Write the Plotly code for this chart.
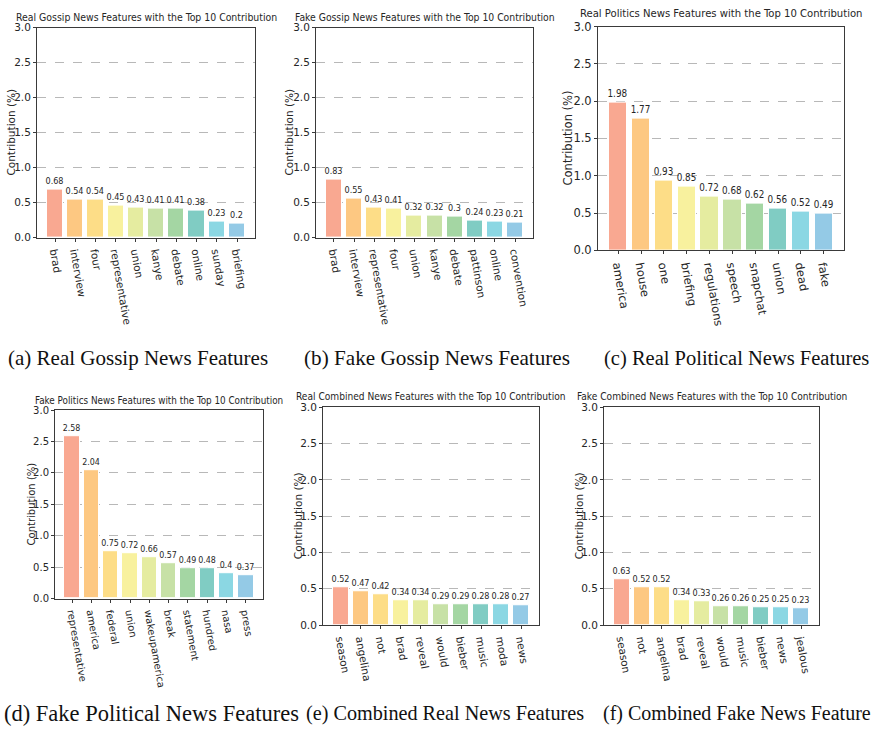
import plotly.graph_objects as go

# Top-10 feature contributions (%) for each news subset
real_gossip_words = ["brad", "interview", "four", "representative", "union",
                     "kanye", "debate", "online", "sunday", "briefing"]
real_gossip_vals = [0.68, 0.54, 0.54, 0.45, 0.43, 0.41, 0.41, 0.38, 0.23, 0.2]

fake_gossip_words = ["brad", "interview", "representative", "four", "union",
                     "kanye", "debate", "pattinson", "online", "convention"]
fake_gossip_vals = [0.83, 0.55, 0.43, 0.41, 0.32, 0.32, 0.3, 0.24, 0.23, 0.21]

real_politics_words = ["america", "house", "one", "briefing", "regulations",
                       "speech", "snapchat", "union", "dead", "fake"]
real_politics_vals = [1.98, 1.77, 0.93, 0.85, 0.72, 0.68, 0.62, 0.56, 0.52, 0.49]

fake_politics_words = ["representative", "america", "federal", "union", "wakeupamerica",
                       "break", "statement", "hundred", "nasa", "press"]
fake_politics_vals = [2.58, 2.04, 0.75, 0.72, 0.66, 0.57, 0.49, 0.48, 0.4, 0.37]

real_combined_words = ["season", "angelina", "not", "brad", "reveal",
                       "would", "bieber", "music", "moda", "news"]
real_combined_vals = [0.52, 0.47, 0.42, 0.34, 0.34, 0.29, 0.29, 0.28, 0.28, 0.27]

fake_combined_words = ["season", "not", "angelina", "brad", "reveal",
                       "would", "music", "bieber", "news", "jealous"]
fake_combined_vals = [0.63, 0.52, 0.52, 0.34, 0.33, 0.26, 0.26, 0.25, 0.25, 0.23]

titles = [
    "Real Gossip News Features with the Top 10 Contribution",
    "Fake Gossip News Features with the Top 10 Contribution",
    "Real Politics News Features with the Top 10 Contribution",
    "Fake Politics News Features with the Top 10 Contribution",
    "Real Combined News Features with the Top 10 Contribution",
    "Fake Combined News Features with the Top 10 Contribution",
]
captions = [
    "(a) Real Gossip News Features",
    "(b) Fake Gossip News Features",
    "(c) Real Political News Features",
    "(d) Fake Political News Features",
    "(e) Combined Real News Features",
    "(f) Combined Fake News Feature",
]
y_label = "Contribution (%)"

panels = [
    (real_gossip_words, real_gossip_vals),
    (fake_gossip_words, fake_gossip_vals),
    (real_politics_words, real_politics_vals),
    (fake_politics_words, fake_politics_vals),
    (real_combined_words, real_combined_vals),
    (fake_combined_words, fake_combined_vals),
]

# pastel spectral palette, one colour per rank
COLORS = ["#F9A891", "#FDC882", "#FDDD87", "#F8F19E", "#E5ECA0",
          "#C7E1A6", "#A4D6A3", "#80CCC3", "#8BD7E3", "#94CAE6"]

W, H = 872, 738
# plot-area boxes in pixels: left, right, top, bottom
boxes = [(37, 255, 21, 235), (316, 533, 21, 235), (598, 844, 20, 248),
         (55, 263, 411, 603), (323, 539, 408, 630), (604, 819, 408, 630)]
tick_px = [10.5, 10.5, 11.5, 10, 10.5, 10.5]
title_px = [10.4, 10.3, 11.2, 9.8, 10.1, 10.1]
label_px = [9, 9, 9.8, 8.8, 9, 9]
ylab_x = [11, 289, 568, 31, 298, 579]
title_y = [10, 10, 7, 401, 397, 397]
caption_pos = [(7, 358), (303, 358), (603, 358), (3, 720), (305, 720), (602, 720)]
caption_px = [21, 21.2, 20.5, 22.5, 20.2, 20]

SANS = "DejaVu Sans"
NARROW = "DejaVu Sans Condensed, Liberation Sans Narrow, Liberation Sans, DejaVu Sans"
INK = "#262626"

fig = go.Figure()
annotations = []
layout = {}

for i, ((words, vals), (l, r, t, b)) in enumerate(zip(panels, boxes)):
    k = "" if i == 0 else str(i + 1)
    idx = list(range(len(words)))
    fs = tick_px[i]
    fig.add_trace(go.Bar(
        x=idx, y=vals, width=0.8,
        marker=dict(color=COLORS, line=dict(color="white", width=1)),
        text=[str(v) for v in vals], textposition="outside",
        textfont=dict(family=NARROW, size=label_px[i], color=INK),
        constraintext="none", cliponaxis=False,
        xaxis="x" + k, yaxis="y" + k, showlegend=False,
        hoverinfo="x+y",
    ))
    layout["xaxis" + k] = dict(
        domain=[l / W, r / W], anchor="y" + k,
        range=[-0.89, len(words) - 0.11],
        tickmode="array", tickvals=idx, ticktext=words, tickangle=80,
        tickfont=dict(family=SANS, size=fs, color=INK),
        ticks="outside", ticklen=3, tickcolor="#3a3a3a",
        showline=True, mirror=True, linecolor="#3a3a3a", linewidth=1,
        showgrid=False, zeroline=False,
    )
    layout["yaxis" + k] = dict(
        domain=[1 - b / H, 1 - t / H], anchor="x" + k,
        range=[0, 3], tickmode="linear", tick0=0, dtick=0.5, tickformat=".1f",
        tickfont=dict(family=SANS, size=fs, color=INK),
        ticks="outside", ticklen=3, tickcolor="#3a3a3a",
        showline=True, mirror=True, linecolor="#3a3a3a", linewidth=1,
        showgrid=True, gridcolor="#b8b8b8", griddash="dash", gridwidth=1.3,
        zeroline=False,
    )
    # panel title
    annotations.append(dict(
        text=titles[i], x=(l + r) / 2 / W, y=1 - title_y[i] / H,
        xref="paper", yref="paper", xanchor="center", yanchor="middle",
        showarrow=False, borderpad=0,
        font=dict(family=NARROW, size=title_px[i], color=INK),
    ))
    # y-axis label
    annotations.append(dict(
        text=y_label, x=ylab_x[i] / W, y=1 - (t + b) / 2 / H,
        xref="paper", yref="paper", xanchor="center", yanchor="middle",
        textangle=-90, showarrow=False,
        font=dict(family=SANS, size=fs, color=INK),
    ))
    # sub-figure caption
    cx, cy = caption_pos[i]
    annotations.append(dict(
        text=captions[i], x=cx / W, y=1 - cy / H,
        xref="paper", yref="paper", xanchor="left", yanchor="middle",
        showarrow=False, borderpad=0,
        font=dict(family="Liberation Serif, Times New Roman, serif",
                  size=caption_px[i], color="#111111"),
    ))

fig.update_layout(
    width=W, height=H, margin=dict(l=0, r=0, t=0, b=0),
    paper_bgcolor="white", plot_bgcolor="white",
    showlegend=False, bargap=0, annotations=annotations, **layout,
)

fig.write_html("out.html")
